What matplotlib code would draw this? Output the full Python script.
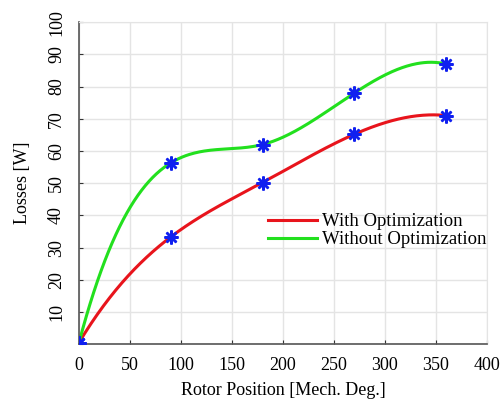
import matplotlib.pyplot as plt
import numpy as np

plt.rcParams['font.family'] = ['Liberation Serif', 'DejaVu Serif']

position = [0, 90, 180, 270, 360]
loss_opt = [0.5, 33.3, 50.2, 65.2, 71.0]
loss_no_opt = [0.5, 56.3, 62.0, 78.0, 87.0]


def spline(x, y, xs):
    # cubic spline, not-a-knot end conditions
    x = np.asarray(x, float)
    y = np.asarray(y, float)
    n = len(x)
    h = np.diff(x)
    A = np.zeros((n, n))
    b = np.zeros(n)
    for i in range(1, n - 1):
        A[i, i - 1] = h[i - 1]
        A[i, i] = 2 * (h[i - 1] + h[i])
        A[i, i + 1] = h[i]
        b[i] = 6 * ((y[i + 1] - y[i]) / h[i] - (y[i] - y[i - 1]) / h[i - 1])
    A[0, 0], A[0, 1], A[0, 2] = h[1], -(h[0] + h[1]), h[0]
    A[-1, -3], A[-1, -2], A[-1, -1] = h[-1], -(h[-2] + h[-1]), h[-2]
    M = np.linalg.solve(A, b)
    out = np.empty_like(xs)
    for j, t in enumerate(xs):
        i = min(max(np.searchsorted(x, t) - 1, 0), n - 2)
        a, c = x[i + 1] - t, t - x[i]
        out[j] = (M[i] * a ** 3 + M[i + 1] * c ** 3) / (6 * h[i]) \
            + (y[i] / h[i] - M[i] * h[i] / 6) * a \
            + (y[i + 1] / h[i] - M[i + 1] * h[i] / 6) * c
    return out


fig = plt.figure(figsize=(5, 4.03), dpi=100)
ax = fig.add_axes([0.158, 0.146, 0.816, 0.799])

xs = np.linspace(0, 360, 300)
ax.plot(xs, spline(position, loss_opt, xs), color='#e8141c', lw=2.2,
        label='With Optimization')
ax.plot(xs, spline(position, loss_no_opt, xs), color='#22e01e', lw=2.2,
        label='Without Optimization')
for ys in (loss_opt, loss_no_opt):
    ax.plot(position, ys, ls='none', marker=(8, 2, 0), ms=10, mew=1.8,
            color='#1020f0', zorder=5)

ax.set_xlim(0, 400)
ax.set_ylim(0, 100)
ax.set_xticks(range(0, 401, 50))
ax.set_yticks(range(0, 101, 10))
ax.set_yticklabels([''] + [str(v) for v in range(10, 101, 10)],
                   rotation=90, va='center')
ax.tick_params(direction='in', length=3, labelsize=13, colors='#333333',
               labelcolor='black')
ax.tick_params(axis='y', pad=10)
ax.tick_params(axis='x', pad=9)
ax.grid(color='#e4e4e4', lw=1)
ax.set_axisbelow(True)
for s in ('left', 'bottom'):
    ax.spines[s].set_color('#555555')
    ax.spines[s].set_linewidth(1.2)
for s in ('top', 'right'):
    ax.spines[s].set_color('#e4e4e4')

ax.set_xlabel('Rotor Position [Mech. Deg.]', fontsize=13, labelpad=6)
ax.set_ylabel('Losses [W]', fontsize=13, labelpad=12)
ax.legend(loc='upper left', bbox_to_anchor=(0.445, 0.43), frameon=False,
          fontsize=13.5, handlelength=2.6, handletextpad=0.3,
          labelspacing=0.05, borderaxespad=0)

fig.savefig('out.png')
